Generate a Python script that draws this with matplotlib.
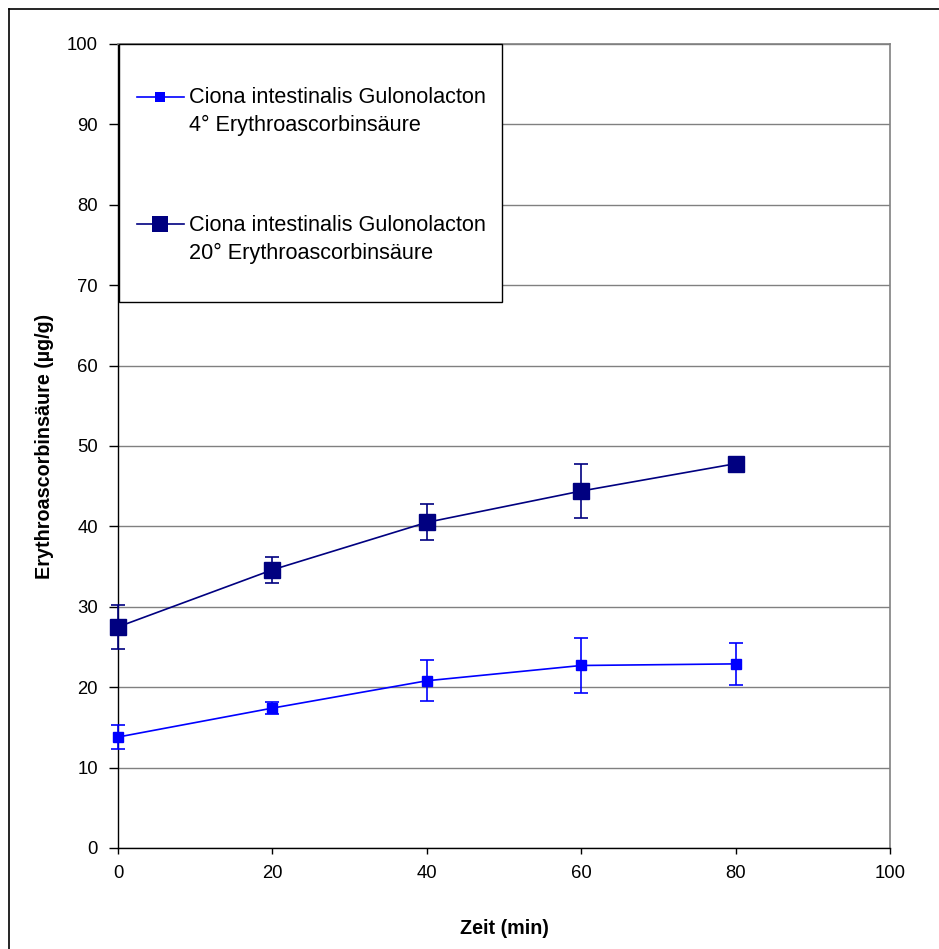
import numpy as np
import matplotlib.pyplot as plt
from matplotlib.patches import Rectangle
from matplotlib.lines import Line2D

plt.rcParams["font.family"] = ["Liberation Sans", "DejaVu Sans"]

# data
zeit_min = [0, 20, 40, 60, 80]

ery_4c = [13.8, 17.4, 20.8, 22.7, 22.9]
ery_4c_err = [1.45, 0.75, 2.55, 3.4, 2.65]

ery_20c = [27.5, 34.6, 40.5, 44.4, 47.8]
ery_20c_err = [2.7, 1.65, 2.25, 3.3, 0.3]

label_4c = ["Ciona intestinalis Gulonolacton", "4° Erythroascorbinsäure"]
label_20c = ["Ciona intestinalis Gulonolacton", "20° Erythroascorbinsäure"]

x_ticks = [0, 20, 40, 60, 80, 100]
y_ticks = [0, 10, 20, 30, 40, 50, 60, 70, 80, 90, 100]

BLUE = "#0000FF"
NAVY = "#000080"
GRID = "#808080"

W, H = 939, 949
fig = plt.figure(figsize=(W / 100, H / 100), dpi=100)
ax = fig.add_axes([118 / W, 1 - 848 / H, 772 / W, 804 / H])

for yv, err, col, ms in [(ery_4c, ery_4c_err, BLUE, 7), (ery_20c, ery_20c_err, NAVY, 11)]:
    lines = ax.errorbar(zeit_min, yv, yerr=err, color=col, lw=1.2,
                        marker="s", ms=ms, mec=col, mfc=col, capsize=4.7,
                        elinewidth=1.2, capthick=1.2, zorder=3)
    for art in lines.get_children():
        art.set_clip_on(False)

ax.set_xlim(0, 100)
ax.set_ylim(0, 100)
ax.set_xticks(x_ticks)
ax.set_yticks(y_ticks)
ax.yaxis.grid(True, color=GRID, lw=1.0)
ax.set_axisbelow(True)

for side in ("top", "right"):
    ax.spines[side].set_color(GRID)
    ax.spines[side].set_linewidth(1.2)
for side in ("left", "bottom"):
    ax.spines[side].set_color("black")
    ax.spines[side].set_linewidth(1.0)

ax.tick_params(axis="y", direction="out", length=6.5, width=1, pad=8, labelsize=13.3)
ax.tick_params(axis="x", direction="out", length=4.5, width=1, pad=8, labelsize=13.3)

ax.set_xlabel("Zeit (min)", fontsize=14.2, fontweight="bold")
ax.xaxis.set_label_coords(0.5, (848 - 934) / 804)
ax.xaxis.label.set_va("baseline")
ax.set_ylabel("Erythroascorbinsäure (µg/g)", fontsize=14.2, fontweight="bold")
ax.yaxis.set_label_coords(-0.0946, 0.5)
ax.yaxis.label.set_va("center")

# legend box, drawn by hand so the handles sit on the first text line
tr = ax.transAxes
ax.add_patch(Rectangle((0.0013, 0.6795), 0.4961, 0.3205, transform=tr,
                       facecolor="white", edgecolor="black", lw=1.0,
                       zorder=5, clip_on=False))
entries = [
    (label_4c, BLUE, 7, 0.9345, 0.9266),
    (label_20c, NAVY, 11, 0.7757, 0.7678),
]
line_step = 28 / 804
for lines, col, ms, hy, by in entries:
    ax.add_line(Line2D([0.0242, 0.0855], [hy, hy], transform=tr, color=col,
                       lw=1.2, zorder=6, clip_on=False))
    ax.add_line(Line2D([0.0544], [hy], transform=tr, color=col, marker="s",
                       ms=ms, mew=0, zorder=6, clip_on=False))
    for i, txt in enumerate(lines):
        ax.text(0.0919, by - i * line_step, txt, transform=tr, fontsize=15.6,
                ha="left", va="baseline", zorder=6)

# outer chart frame (only top and left edges are visible)
fig.add_artist(Line2D([8.5 / W, 8.5 / W], [0, 1 - 8.5 / H], color="black", lw=1.2))
fig.add_artist(Line2D([8.5 / W, 1], [1 - 8.5 / H, 1 - 8.5 / H], color="black", lw=1.2))

fig.savefig("out.png", dpi=100, facecolor="white")
